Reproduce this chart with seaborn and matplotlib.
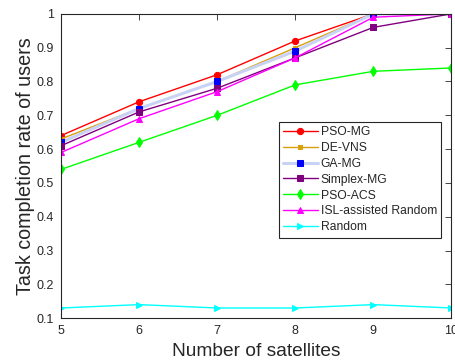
import seaborn as sns
import matplotlib.pyplot as plt
import pandas as pd

satellites = [5, 6, 7, 8, 9, 10]
pso_mg = [0.64, 0.74, 0.82, 0.92, 1.00, 1.00]
de_vns = [0.63, 0.72, 0.80, 0.90, 1.00, 1.00]
ga_mg = [0.62, 0.72, 0.80, 0.89, 1.00, 1.00]
simplex_mg = [0.61, 0.71, 0.78, 0.87, 0.96, 1.00]
pso_acs = [0.54, 0.62, 0.70, 0.79, 0.83, 0.84]
isl_random = [0.59, 0.69, 0.77, 0.87, 0.99, 1.00]
random_ = [0.13, 0.14, 0.13, 0.13, 0.14, 0.13]

names = ['PSO-MG', 'DE-VNS', 'GA-MG', 'Simplex-MG', 'PSO-ACS', 'ISL-assisted Random', 'Random']
values = [pso_mg, de_vns, ga_mg, simplex_mg, pso_acs, isl_random, random_]

# line colour, marker colour, marker, marker size
styles = {
    'PSO-MG': ('#ff0000', '#ff0000', 'o', 4.5),
    'DE-VNS': ('#d9a00c', '#d9a00c', 's', 3),
    'GA-MG': ('#c8d2f5', '#0000ff', 's', 4.5),
    'Simplex-MG': ('#800080', '#800080', 's', 4),
    'PSO-ACS': ('#00ff00', '#00ff00', 'd', 5),
    'ISL-assisted Random': ('#ff00ff', '#ff00ff', '^', 5),
    'Random': ('#00ffff', '#00ffff', '>', 5),
}

sns.set_style('white')
plt.rcParams['font.family'] = ['Liberation Sans', 'DejaVu Sans']

fig, ax = plt.subplots(figsize=(4.56, 3.64), dpi=100)
fig.subplots_adjust(left=0.134, right=0.99, top=0.962, bottom=0.126)

for name, vals in zip(names, values):
    df = pd.DataFrame({'x': satellites, 'y': vals})
    lc, mc, mk, ms = styles[name]
    lw = 2.2 if name == 'GA-MG' else 1.0
    sns.lineplot(data=df, x='x', y='y', ax=ax, color=lc, linewidth=lw,
                 marker=mk, markersize=ms, markerfacecolor=mc, markeredgecolor=mc,
                 label=name)

ax.set_xlim(5, 10)
ax.set_ylim(0.1, 1.0)
ax.set_xticks(satellites)
ax.set_yticks([0.1, 0.2, 0.3, 0.4, 0.5, 0.6, 0.7, 0.8, 0.9, 1.0])
ax.set_yticklabels(['0.1', '0.2', '0.3', '0.4', '0.5', '0.6', '0.7', '0.8', '0.9', '1'])
ax.tick_params(direction='in', top=True, right=True, length=4, width=0.6,
               labelsize=9, colors='#262626', pad=5)
for s in ax.spines.values():
    s.set_color('#262626')
    s.set_linewidth(0.8)

ax.set_xlabel('Number of satellites', fontsize=13.8, color='#262626', labelpad=4)
ax.set_ylabel('Task completion rate of users', fontsize=14.2, color='#262626', labelpad=1)

leg = ax.legend(loc='upper left', bbox_to_anchor=(0.557, 0.645), fontsize=8.7,
                frameon=True, fancybox=False, edgecolor='#262626', framealpha=1,
                handlelength=2.9, handletextpad=0.25, labelspacing=0.32,
                borderpad=0.35, borderaxespad=0)
leg.get_frame().set_linewidth(0.8)

fig.savefig('out.png', dpi=100)
